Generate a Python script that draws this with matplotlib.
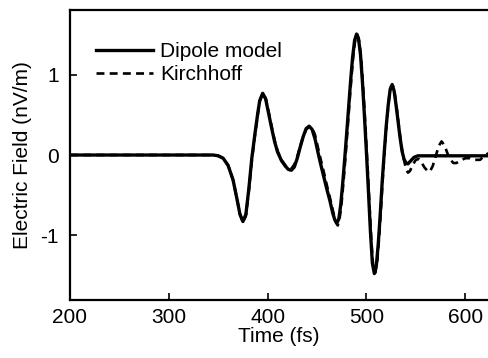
import matplotlib
matplotlib.use("Agg")
import matplotlib.pyplot as plt

plt.rcParams['font.family'] = ['Liberation Sans', 'DejaVu Sans']

# Dipole model field (time in fs, field in nV/m)
t_dipole = [200, 300, 340, 345, 350, 355, 360, 365, 369, 372, 375,
            378, 381, 384, 387, 390, 392, 395,
            398, 401, 404, 407, 410, 414, 418, 421, 424,
            427, 430, 433, 436, 439, 442,
            445, 448, 451, 454, 457, 460, 463, 466, 468, 470,
            472, 474, 476, 478, 480, 482, 484, 486, 488, 490,
            492, 494, 496, 498, 500, 502, 504, 506, 508,
            510, 512, 514, 516, 518, 520, 522, 524, 526,
            528, 530, 532, 534, 536, 538, 540, 542, 545, 548, 552, 560, 600, 625]
e_dipole = [0.0, 0.0, 0.0, 0.0, -0.01, -0.04, -0.13, -0.31, -0.55, -0.74, -0.83,
            -0.74, -0.42, -0.04, 0.25, 0.52, 0.68, 0.77,
            0.70, 0.52, 0.34, 0.17, 0.04, -0.07, -0.14, -0.18, -0.19,
            -0.15, -0.04, 0.10, 0.23, 0.33, 0.36,
            0.32, 0.20, 0.03, -0.13, -0.28, -0.43, -0.57, -0.73, -0.81, -0.85,
            -0.80, -0.62, -0.35, -0.05, 0.27, 0.60, 0.93, 1.22, 1.43, 1.51,
            1.45, 1.25, 0.90, 0.48, 0.03, -0.45, -0.95, -1.35, -1.48,
            -1.38, -1.10, -0.73, -0.32, 0.03, 0.36, 0.62, 0.82, 0.88,
            0.80, 0.62, 0.42, 0.22, 0.05, -0.05, -0.10, -0.11, -0.07, -0.03, -0.01, -0.01, -0.01, -0.01]

# Kirchhoff integral field
t_kirchhoff = [200, 300, 340, 345, 350, 355, 360, 365, 369, 372, 375,
               378, 381, 384, 387, 390, 392, 395,
               398, 401, 404, 407, 410, 414, 418, 421, 424,
               427, 430, 433, 436, 439, 442,
               445, 448, 451, 454, 457, 460, 463, 466, 469, 471,
               473, 475, 477, 479, 481, 483, 485, 487, 489, 491,
               493, 495, 497, 499, 501, 503, 505, 507, 509,
               511, 513, 515, 517, 519, 521, 523, 525, 527,
               529, 531, 533, 535, 537, 540, 542, 544, 547, 550, 553,
               556, 559, 562, 564, 567, 570, 573, 576, 579, 582, 585,
               588, 591, 595, 600, 605, 610, 615, 620, 625]
e_kirchhoff = [0.0, 0.0, 0.0, 0.0, -0.01, -0.04, -0.13, -0.31, -0.55, -0.74, -0.84,
               -0.76, -0.45, -0.07, 0.23, 0.50, 0.67, 0.77,
               0.71, 0.54, 0.36, 0.19, 0.05, -0.06, -0.13, -0.17, -0.17,
               -0.12, -0.02, 0.11, 0.23, 0.32, 0.35,
               0.34, 0.25, 0.09, -0.07, -0.22, -0.38, -0.53, -0.69, -0.84, -0.88,
               -0.78, -0.58, -0.30, 0.01, 0.34, 0.68, 1.00, 1.28, 1.46, 1.50,
               1.40, 1.15, 0.78, 0.35, -0.12, -0.60, -1.08, -1.42, -1.47,
               -1.32, -1.00, -0.61, -0.20, 0.17, 0.48, 0.72, 0.86, 0.86,
               0.74, 0.55, 0.34, 0.15, -0.01, -0.17, -0.22, -0.20, -0.12, -0.06, -0.05,
               -0.10, -0.16, -0.20, -0.21, -0.14, -0.02, 0.11, 0.17, 0.12, 0.02, -0.06,
               -0.10, -0.10, -0.07, -0.04, -0.04, -0.06, -0.06, 0.0, 0.03]

x_ticks = [200, 300, 400, 500, 600]
y_ticks = [-1, 0, 1]
y_tick_labels = ['-1', '0', '1']

fig = plt.figure(figsize=(4.88, 3.58), dpi=100)
ax = fig.add_axes([0.1434, 0.162, 0.8566, 0.810])

ax.plot(t_dipole, e_dipole, color='black', lw=2.4, solid_joinstyle='round',
        label='Dipole model')
ax.plot(t_kirchhoff, e_kirchhoff, color='black', lw=1.9, dashes=(3.0, 2.0),
        label='Kirchhoff')

ax.set_xlim(200, 623)
ax.set_ylim(-1.81, 1.81)
ax.set_xticks(x_ticks)
ax.set_yticks(y_ticks)
ax.set_yticklabels(y_tick_labels)

for side in ('left', 'bottom', 'top'):
    ax.spines[side].set_linewidth(1.6)
ax.spines['right'].set_visible(False)

ax.tick_params(direction='in', width=1.2, labelsize=15, top=False, right=False)
ax.tick_params(axis='x', length=5, pad=6)
ax.tick_params(axis='y', length=5, pad=8)

ax.set_xlabel('Time (fs)', fontsize=15, labelpad=0)
ax.set_ylabel('Electric Field (nV/m)', fontsize=15, labelpad=6)

leg = ax.legend(loc='upper left', bbox_to_anchor=(0.063, 0.89), frameon=False,
                fontsize=15, handlelength=2.7, handletextpad=0.35,
                labelspacing=0.2, borderpad=0, borderaxespad=0)

fig.savefig('out.png', dpi=100)
